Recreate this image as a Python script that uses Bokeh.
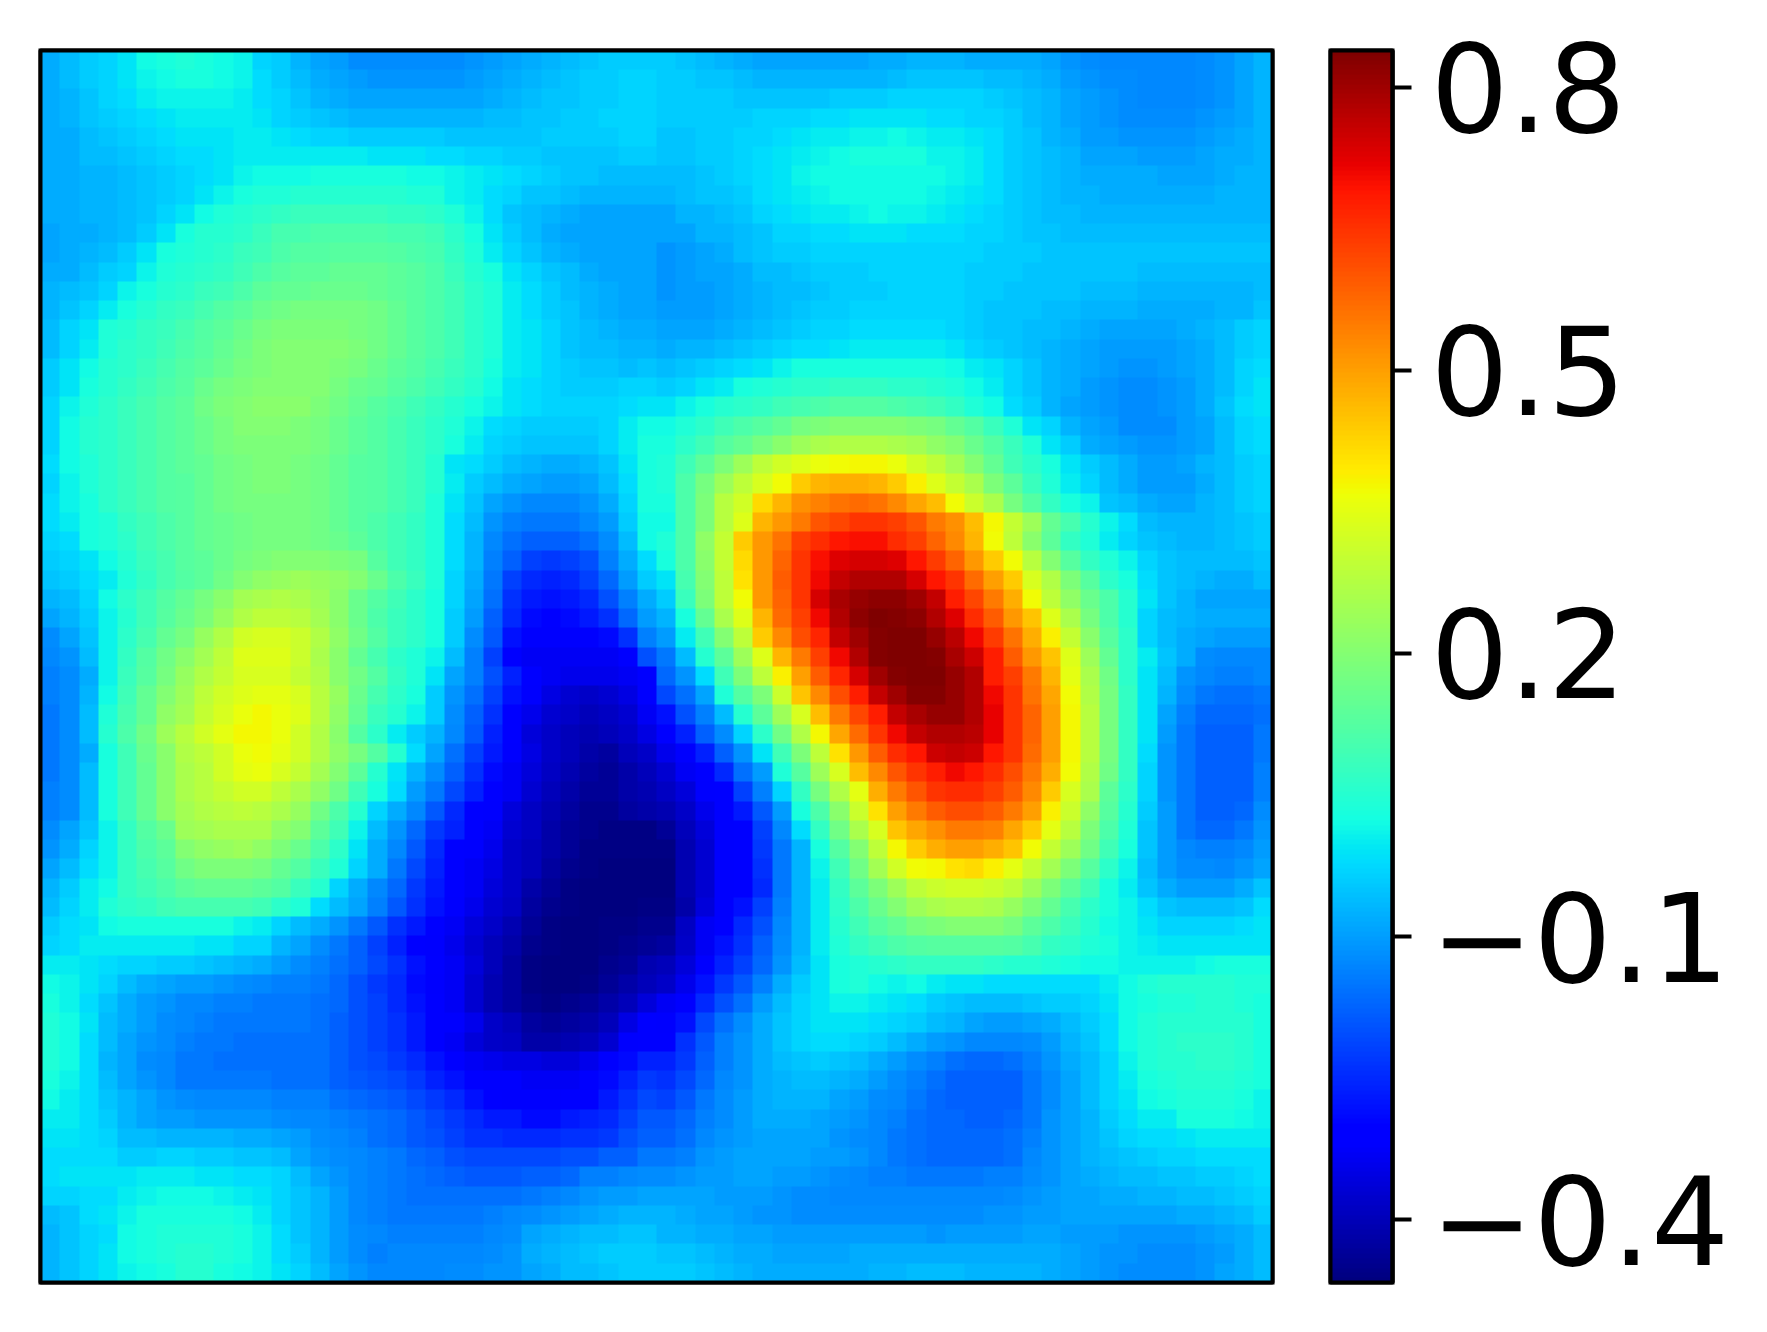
import numpy as np
from bokeh.embed import file_html
from bokeh.resources import INLINE
from bokeh.layouts import row
from bokeh.models import FixedTicker, LinearColorMapper, Range1d
from bokeh.plotting import figure

# colour-bar ticks
tick_values = [-0.4, -0.1, 0.2, 0.5, 0.8]
tick_labels = ["\u22120.4", "\u22120.1", "0.2", "0.5", "0.8"]
value_low = -0.4666
value_high = 0.839

# cell values, in hundredths, top row first
left_half = [
[-8,-6,-4,-3,-1,2,3,4,3,2,1,-3,-4,-7,-9,-10,-12,-12,-12,-12,-12,-12,-11,-10,-9,-8,-7,-6,-5,-4,-4,-4],
[-8,-6,-4,-3,-1,1,2,3,3,2,1,-2,-4,-6,-8,-9,-10,-11,-11,-11,-11,-11,-10,-9,-8,-7,-6,-5,-4,-4,-3,-3],
[-8,-7,-5,-3,-2,0,1,1,1,1,0,-2,-3,-5,-7,-8,-9,-9,-9,-9,-9,-9,-9,-8,-7,-6,-5,-5,-4,-4,-3,-3],
[-8,-7,-5,-4,-3,-2,-1,0,0,0,0,-1,-3,-4,-5,-6,-7,-7,-7,-7,-7,-7,-7,-6,-6,-5,-5,-4,-4,-3,-3,-3],
[-8,-8,-6,-5,-4,-3,-2,-1,-1,-1,0,0,-1,-2,-3,-3,-4,-4,-4,-4,-4,-5,-5,-5,-5,-5,-4,-4,-4,-4,-3,-3],
[-8,-8,-6,-6,-5,-4,-3,-2,-2,-1,0,0,0,0,0,0,0,-1,-1,-1,-2,-2,-3,-3,-4,-4,-5,-5,-5,-5,-4,-4],
[-8,-8,-7,-7,-6,-5,-4,-3,-2,-1,1,2,2,2,3,3,3,3,3,2,2,1,0,-1,-2,-3,-4,-5,-5,-6,-6,-6],
[-8,-8,-7,-7,-6,-5,-4,-3,-1,1,3,4,4,5,5,5,5,5,5,4,4,1,0,-2,-3,-5,-5,-6,-7,-7,-7,-7],
[-8,-8,-7,-7,-6,-5,-3,-1,2,4,5,6,7,8,8,8,8,8,7,7,6,4,1,-2,-5,-6,-7,-8,-9,-9,-9,-9],
[-9,-8,-8,-7,-6,-4,-1,3,5,5,6,8,10,10,11,11,11,11,10,10,9,6,3,-1,-4,-6,-8,-9,-9,-9,-9,-9],
[-9,-8,-7,-6,-4,-1,3,4,5,6,8,9,11,12,12,13,13,13,12,11,10,7,4,0,-3,-5,-7,-8,-9,-9,-9,-9],
[-8,-8,-6,-4,-3,1,4,5,6,7,9,11,13,14,14,15,15,15,14,13,11,8,5,3,-1,-3,-5,-6,-8,-9,-9,-9],
[-7,-6,-5,-3,1,3,5,6,8,9,11,14,15,15,16,16,16,15,14,13,11,9,6,4,0,-2,-4,-6,-7,-8,-9,-9],
[-7,-5,-3,0,3,5,7,8,10,12,14,16,17,18,18,18,18,17,15,13,11,9,6,4,0,-2,-4,-5,-7,-8,-9,-9],
[-6,-3,-1,4,5,7,8,10,12,14,16,18,19,19,19,19,18,17,15,13,11,9,6,4,0,-1,-3,-5,-6,-7,-8,-8],
[-6,-3,0,4,6,7,9,11,13,15,17,19,20,20,20,20,19,17,15,13,11,9,6,4,0,-1,-3,-5,-6,-6,-7,-7],
[-4,-1,2,5,6,8,10,12,14,16,18,19,20,20,20,19,18,16,14,12,10,8,6,3,0,-1,-3,-4,-5,-5,-6,-5],
[-4,-1,3,5,7,9,11,13,16,18,19,20,20,20,20,18,16,15,13,11,9,7,5,2,-1,-2,-3,-4,-4,-4,-3,-3],
[-3,1,4,6,8,10,12,14,17,19,20,21,21,21,19,17,15,13,11,9,7,5,3,1,-1,-2,-3,-3,-3,-3,-2,-1],
[-3,2,5,6,8,10,12,14,16,18,20,20,20,19,18,16,14,12,10,8,6,4,1,-2,-3,-4,-4,-4,-4,-3,0,2],
[-3,2,5,6,8,10,12,14,16,18,19,19,19,19,18,16,14,12,10,8,6,3,0,-3,-4,-5,-5,-5,-5,-3,0,3],
[-2,2,4,6,8,10,12,14,15,17,18,19,19,18,17,15,13,12,10,8,5,-1,-2,-4,-6,-7,-8,-8,-7,-5,-1,3],
[-3,1,4,6,8,10,12,13,15,17,18,19,19,18,17,15,13,12,10,8,5,0,-4,-6,-8,-9,-10,-10,-9,-6,-2,3],
[-2,1,3,6,8,10,12,13,15,17,18,18,18,18,17,15,13,12,10,8,4,-1,-5,-9,-11,-13,-13,-13,-11,-8,-3,3],
[-2,0,3,4,7,9,11,13,15,16,17,18,18,18,17,15,13,11,9,7,4,-2,-6,-11,-14,-15,-15,-15,-13,-10,-4,2],
[-3,-2,3,4,6,9,11,13,15,16,17,18,18,18,17,16,14,11,9,7,4,-2,-7,-13,-16,-18,-18,-18,-16,-12,-6,2],
[-4,-3,-1,2,5,8,10,13,14,16,18,19,20,20,20,19,18,13,9,7,4,-2,-7,-14,-18,-22,-23,-22,-20,-14,-8,-2],
[-5,-4,-2,0,4,7,10,12,14,17,20,22,23,24,23,22,20,16,11,8,4,-3,-8,-15,-22,-25,-26,-25,-22,-17,-10,-4],
[-7,-6,-3,2,6,9,12,15,18,21,25,26,27,26,24,21,16,12,9,6,3,-3,-9,-16,-24,-27,-28,-27,-25,-20,-14,-8],
[-9,-7,-4,1,5,9,13,16,19,23,27,29,29,28,25,21,16,11,8,6,3,-4,-10,-18,-25,-29,-30,-29,-27,-24,-17,-10],
[-12,-9,-5,1,6,10,15,18,23,27,32,33,33,31,27,22,17,12,8,6,3,-4,-12,-19,-28,-32,-32,-32,-32,-29,-24,-14],
[-13,-11,-6,1,7,12,17,21,25,29,34,34,34,31,26,21,15,10,6,4,1,-6,-14,-22,-30,-33,-33,-33,-33,-33,-30,-20],
[-14,-12,-8,1,8,13,18,23,27,30,33,33,33,30,27,21,17,12,7,4,-1,-9,-14,-20,-26,-31,-33,-34,-34,-34,-33,-30],
[-14,-12,-7,2,9,15,20,24,29,32,34,35,35,33,28,23,16,10,6,3,-4,-11,-16,-22,-28,-32,-35,-37,-38,-37,-35,-31],
[-15,-12,-6,4,10,15,22,25,30,33,36,38,36,34,28,22,15,8,5,1,-4,-12,-18,-24,-30,-34,-37,-38,-40,-39,-37,-33],
[-15,-12,-6,5,11,17,24,28,32,35,38,38,36,32,27,21,12,6,0,-4,-7,-13,-19,-26,-31,-36,-38,-40,-41,-40,-38,-35],
[-15,-12,-8,3,9,16,21,27,29,32,36,37,35,32,27,22,18,12,5,-2,-9,-16,-22,-27,-32,-35,-38,-40,-42,-43,-40,-38],
[-15,-12,-6,3,9,15,21,26,28,32,35,36,33,30,25,20,14,5,-1,-7,-12,-18,-24,-29,-33,-36,-39,-41,-43,-44,-42,-40],
[-14,-12,-6,3,9,15,21,26,28,30,32,32,29,26,22,17,9,3,-2,-10,-15,-21,-26,-31,-33,-37,-40,-42,-44,-44,-42,-41],
[-14,-12,-6,3,9,15,21,25,27,28,29,28,26,23,17,11,5,-3,-8,-13,-19,-25,-31,-32,-36,-39,-41,-43,-45,-45,-43,-42],
[-12,-9,-5,1,7,12,16,24,25,26,26,26,22,20,14,9,1,-6,-11,-17,-23,-26,-31,-33,-37,-39,-42,-44,-45,-46,-46,-46],
[-11,-8,-3,1,7,11,14,20,22,23,24,22,19,16,11,6,-1,-8,-13,-19,-25,-30,-32,-34,-38,-40,-42,-44,-46,-46,-46,-46],
[-9,-6,-2,1,7,10,13,17,19,19,19,18,15,12,8,4,-3,-8,-15,-21,-26,-30,-33,-35,-38,-40,-43,-45,-46,-47,-47,-47],
[-7,-4,0,2,7,9,11,14,15,15,15,14,12,8,5,-3,-8,-13,-17,-23,-27,-31,-33,-36,-38,-42,-44,-46,-47,-47,-47,-47],
[-6,-3,0,4,6,7,9,10,10,10,10,9,6,4,-2,-6,-9,-14,-19,-24,-28,-32,-34,-37,-39,-43,-45,-46,-47,-47,-47,-46],
[-4,-2,-1,2,3,3,3,3,3,3,1,0,-3,-6,-8,-11,-15,-19,-24,-27,-31,-33,-36,-38,-41,-44,-46,-47,-47,-46,-46,-45],
[-3,-2,0,0,0,0,0,0,-1,-1,-3,-3,-7,-9,-12,-15,-18,-22,-26,-30,-32,-34,-37,-40,-42,-45,-46,-47,-47,-46,-45,-44],
[0,0,-1,-2,-3,-3,-4,-4,-5,-6,-7,-8,-10,-12,-14,-16,-18,-21,-24,-28,-31,-33,-36,-40,-43,-46,-47,-47,-47,-45,-44,-41],
[2,1,-1,-3,-6,-8,-9,-10,-10,-11,-12,-13,-14,-14,-15,-17,-20,-23,-25,-29,-32,-33,-37,-41,-43,-46,-47,-47,-46,-44,-42,-40],
[3,1,-2,-5,-8,-10,-11,-13,-13,-14,-14,-15,-15,-15,-16,-17,-20,-22,-25,-28,-31,-33,-37,-41,-43,-45,-46,-45,-44,-42,-40,-36],
[4,2,-1,-6,-8,-10,-12,-13,-14,-15,-15,-15,-15,-15,-16,-18,-20,-22,-24,-27,-30,-32,-34,-38,-40,-43,-44,-43,-42,-40,-35,-31],
[4,2,-2,-6,-9,-11,-12,-14,-15,-15,-16,-16,-16,-16,-16,-18,-20,-22,-24,-27,-30,-33,-36,-38,-39,-42,-42,-41,-40,-37,-32,-30],
[4,2,-2,-7,-9,-12,-13,-15,-15,-16,-16,-16,-16,-16,-16,-18,-20,-21,-23,-25,-28,-31,-33,-34,-35,-35,-36,-36,-34,-32,-29,-26],
[3,1,-2,-6,-9,-11,-13,-15,-15,-15,-15,-15,-16,-16,-16,-18,-19,-20,-21,-23,-26,-28,-31,-32,-32,-33,-33,-33,-32,-29,-26,-23],
[2,0,-2,-5,-7,-9,-11,-12,-13,-13,-13,-13,-14,-14,-14,-16,-17,-18,-19,-21,-23,-25,-28,-30,-32,-32,-32,-30,-30,-27,-24,-21],
[0,0,-2,-4,-7,-9,-10,-10,-11,-11,-11,-11,-12,-13,-13,-14,-15,-16,-17,-19,-21,-23,-25,-27,-27,-29,-29,-27,-26,-25,-22,-19],
[-1,-1,-2,-3,-6,-6,-7,-7,-7,-7,-8,-8,-9,-10,-12,-13,-14,-16,-17,-19,-20,-22,-24,-24,-25,-25,-25,-24,-24,-23,-20,-18],
[-2,-2,-2,-2,-4,-4,-3,-3,-4,-4,-5,-5,-6,-9,-11,-12,-13,-14,-15,-17,-18,-20,-21,-21,-21,-21,-21,-20,-20,-18,-18,-15],
[-2,-1,-1,-1,-1,0,0,0,-1,-1,-2,-2,-3,-6,-9,-11,-13,-14,-15,-16,-17,-18,-19,-19,-19,-18,-18,-17,-14,-14,-13,-12],
[-3,-3,-2,-2,0,1,2,2,2,1,0,-1,-3,-5,-7,-10,-13,-14,-15,-16,-16,-16,-16,-16,-16,-15,-14,-13,-11,-10,-10,-9],
[-6,-5,-2,-1,1,3,3,3,3,3,2,0,-3,-5,-7,-10,-13,-14,-15,-15,-15,-15,-15,-14,-13,-12,-11,-10,-9,-8,-7,-7],
[-7,-5,-3,-2,2,3,4,4,4,4,3,1,-2,-5,-7,-10,-12,-13,-14,-14,-14,-14,-14,-13,-12,-9,-8,-7,-6,-6,-5,-5],
[-7,-5,-3,-1,2,3,4,5,5,4,3,1,-2,-4,-7,-10,-12,-14,-13,-13,-13,-13,-13,-12,-11,-8,-7,-6,-5,-4,-4,-4],
[-7,-5,-3,-1,1,2,3,5,5,3,2,1,-1,-3,-6,-9,-11,-13,-13,-13,-13,-12,-12,-11,-11,-9,-8,-6,-6,-5,-4,-4],
]

right_half = [
[-4,-5,-6,-7,-8,-9,-9,-9,-9,-9,-9,-8,-8,-7,-7,-7,-8,-8,-8,-8,-9,-11,-12,-13,-13,-13,-13,-13,-12,-11,-9,-7],
[-4,-4,-5,-5,-6,-7,-7,-7,-7,-7,-7,-7,-6,-5,-5,-5,-5,-6,-6,-7,-8,-10,-11,-12,-12,-13,-13,-13,-12,-11,-9,-7],
[-4,-4,-4,-4,-5,-5,-5,-5,-5,-4,-4,-4,-3,-3,-3,-3,-3,-4,-5,-6,-7,-9,-10,-11,-12,-13,-13,-13,-12,-11,-9,-7],
[-4,-4,-4,-4,-4,-3,-3,-3,-2,-2,-1,-1,-1,-1,-2,-2,-3,-3,-4,-6,-7,-9,-10,-11,-12,-12,-12,-12,-11,-10,-9,-7],
[-5,-5,-4,-4,-3,-3,-2,-1,0,0,1,1,2,1,0,0,-1,-2,-4,-5,-7,-8,-10,-10,-11,-11,-11,-11,-10,-9,-8,-7],
[-5,-5,-4,-4,-3,-2,-1,0,1,2,3,3,3,3,1,1,0,-2,-4,-5,-6,-7,-9,-9,-9,-10,-10,-10,-9,-8,-8,-7],
[-6,-6,-5,-4,-3,-2,-1,1,2,2,2,2,2,2,2,1,0,-2,-4,-5,-6,-7,-8,-8,-8,-8,-9,-9,-9,-8,-7,-7],
[-7,-6,-5,-5,-4,-2,-1,0,1,2,2,2,2,2,1,0,-1,-2,-4,-5,-6,-7,-7,-8,-8,-8,-8,-8,-8,-7,-7,-7],
[-9,-7,-7,-6,-5,-3,-2,-1,0,0,1,2,1,1,0,-1,-2,-3,-4,-5,-6,-6,-7,-7,-7,-7,-7,-7,-7,-7,-7,-7],
[-9,-9,-7,-7,-6,-5,-3,-3,-2,-2,-1,-1,-1,-2,-2,-2,-3,-3,-4,-5,-5,-6,-6,-6,-6,-6,-6,-6,-6,-6,-6,-6],
[-11,-10,-9,-8,-6,-5,-4,-4,-3,-3,-3,-3,-3,-3,-3,-3,-3,-4,-4,-4,-5,-5,-5,-5,-5,-5,-5,-5,-5,-5,-5,-5],
[-11,-10,-9,-9,-8,-6,-6,-5,-4,-4,-4,-3,-3,-3,-3,-3,-4,-4,-4,-5,-5,-5,-5,-5,-5,-6,-6,-6,-6,-6,-6,-6],
[-11,-10,-10,-9,-8,-7,-6,-6,-5,-4,-4,-4,-3,-3,-3,-3,-4,-4,-5,-5,-5,-5,-6,-6,-6,-7,-7,-7,-7,-7,-7,-6],
[-10,-10,-10,-9,-8,-7,-6,-5,-4,-4,-3,-3,-3,-3,-3,-3,-4,-5,-5,-5,-6,-6,-7,-7,-7,-8,-8,-8,-8,-7,-7,-5],
[-9,-9,-9,-8,-7,-6,-5,-4,-3,-3,-2,-2,-2,-2,-2,-3,-4,-5,-5,-6,-6,-7,-8,-9,-9,-9,-9,-8,-7,-6,-4,-3],
[-8,-7,-7,-6,-5,-4,-3,-2,-2,-1,0,0,0,0,0,-1,-3,-4,-5,-6,-7,-8,-9,-10,-10,-10,-10,-9,-8,-6,-4,-3],
[-6,-5,-4,-3,-2,-1,1,3,3,3,3,3,3,3,3,2,0,-1,-3,-5,-7,-8,-9,-10,-11,-11,-10,-9,-8,-6,-3,-2],
[-4,-3,-1,0,3,4,5,6,6,7,7,7,6,6,5,4,2,0,-3,-5,-7,-8,-10,-11,-12,-12,-11,-10,-8,-6,-3,-1],
[-1,1,3,5,6,7,9,10,11,12,12,12,11,10,9,7,4,2,-2,-4,-7,-9,-10,-11,-12,-12,-11,-10,-8,-5,-2,-1],
[2,4,6,9,11,13,15,18,19,20,20,20,20,19,18,15,12,8,4,-1,-3,-7,-9,-10,-12,-12,-12,-10,-9,-6,-3,-2],
[3,6,9,13,15,18,21,24,26,27,27,27,26,25,22,20,16,12,8,4,-1,-4,-8,-9,-10,-11,-11,-10,-9,-6,-3,-2],
[4,9,14,19,24,29,32,34,36,37,38,38,36,32,29,25,20,15,9,6,3,-1,-4,-6,-8,-10,-10,-9,-7,-6,-4,-3],
[4,11,18,24,29,33,37,44,47,48,48,47,44,39,34,30,26,19,14,8,4,0,-3,-6,-8,-10,-10,-10,-8,-6,-4,-3],
[3,11,19,28,32,42,47,52,54,56,57,56,53,49,46,37,31,26,18,12,7,3,1,-5,-6,-8,-9,-9,-7,-6,-4,-3],
[2,11,19,28,34,47,51,55,60,62,65,65,63,60,55,52,46,38,30,24,15,10,5,1,-2,-6,-7,-7,-7,-6,-5,-4],
[4,11,22,30,44,51,56,63,66,69,70,70,66,63,58,53,47,37,29,21,14,7,4,0,-3,-5,-6,-7,-7,-6,-5,-4],
[3,11,21,30,42,51,58,65,70,73,74,74,73,69,64,58,51,44,37,28,20,13,7,4,1,-3,-5,-6,-6,-6,-6,-5],
[-1,10,20,29,41,51,59,65,71,76,78,78,78,74,69,65,57,50,44,33,27,19,13,6,3,-2,-5,-6,-7,-8,-8,-6],
[-4,8,19,29,37,51,58,65,74,79,81,82,82,80,76,68,62,55,48,37,29,22,16,11,5,-1,-5,-7,-9,-9,-9,-9],
[-7,3,15,26,34,47,57,63,71,78,82,84,83,82,78,73,66,59,51,45,34,26,18,11,5,-3,-6,-7,-8,-8,-8,-8],
[-10,0,9,20,29,44,53,61,67,76,80,83,84,84,81,77,71,64,56,48,39,30,21,13,6,-3,-6,-8,-9,-10,-10,-10],
[-15,-6,5,14,24,34,47,55,63,71,78,83,84,84,83,79,75,68,59,51,45,34,24,15,6,0,-5,-8,-12,-13,-13,-13],
[-17,-11,-2,9,19,29,39,50,59,67,74,80,83,84,84,81,78,68,63,55,47,35,26,17,6,-1,-6,-11,-13,-14,-14,-13],
[-21,-16,-9,4,12,19,31,45,53,61,68,76,80,83,83,81,78,71,65,56,49,37,27,18,7,-1,-7,-12,-15,-16,-16,-15],
[-28,-20,-14,-6,5,14,24,33,46,55,62,68,76,79,81,81,78,72,65,58,50,38,28,18,7,-1,-9,-14,-17,-17,-17,-16],
[-30,-26,-18,-12,-3,6,17,27,38,49,57,65,71,76,78,78,77,72,65,58,50,38,28,18,7,-1,-10,-15,-18,-18,-18,-15],
[-34,-32,-26,-18,-11,-1,9,19,29,41,51,59,66,69,75,76,75,69,65,57,50,38,28,18,7,-2,-11,-15,-18,-18,-18,-15],
[-37,-33,-31,-25,-16,-10,4,13,24,33,46,53,60,65,68,71,69,66,61,55,48,37,27,17,7,-3,-11,-15,-18,-18,-18,-14],
[-39,-36,-32,-30,-22,-14,-3,7,18,27,35,48,55,60,65,66,66,63,59,53,44,33,26,14,6,-3,-11,-15,-18,-18,-18,-14],
[-41,-38,-34,-31,-27,-19,-10,3,11,21,31,41,50,55,59,61,61,59,55,50,39,31,22,13,5,-4,-10,-15,-18,-18,-17,-12],
[-44,-40,-36,-32,-30,-22,-13,-2,7,17,26,33,45,49,52,55,55,54,49,44,35,28,19,11,4,-5,-10,-15,-17,-17,-15,-11],
[-46,-41,-37,-32,-31,-23,-15,-7,3,12,20,29,38,44,48,50,50,48,45,37,30,24,17,9,3,-5,-10,-13,-14,-14,-13,-10],
[-47,-41,-37,-32,-31,-24,-15,-7,1,9,17,25,32,37,38,41,42,39,35,30,25,19,13,6,1,-6,-10,-12,-12,-13,-11,-9],
[-47,-41,-37,-32,-30,-25,-15,-7,0,7,14,19,24,29,31,32,32,31,29,24,19,14,9,3,0,-5,-8,-10,-10,-10,-8,-5],
[-46,-42,-36,-32,-28,-22,-14,-7,0,6,11,16,20,24,26,27,27,26,23,19,15,10,6,3,1,-2,-5,-6,-6,-6,-5,-2],
[-45,-39,-33,-30,-25,-20,-13,-7,0,5,9,13,15,18,19,20,20,20,18,14,11,8,5,2,1,-1,-3,-3,-3,-3,-2,-1],
[-43,-38,-33,-28,-24,-18,-12,-7,0,4,7,9,11,12,13,13,13,13,12,10,7,6,4,3,1,0,-1,-1,-1,-1,-1,-1],
[-40,-36,-31,-26,-22,-17,-11,-6,-1,3,4,5,6,7,7,7,7,6,5,5,4,3,2,2,1,1,1,1,2,3,3,3],
[-38,-34,-28,-23,-19,-14,-8,-4,-1,3,4,2,1,2,0,-1,-1,-2,-2,-2,-2,-2,-2,0,2,4,5,5,5,5,4,4],
[-33,-30,-25,-20,-16,-10,-6,-3,-1,1,1,0,-1,-2,-4,-5,-6,-6,-6,-5,-4,-4,-3,-1,2,3,4,4,5,5,4,3],
[-32,-28,-21,-16,-12,-8,-5,-3,-1,-1,-1,-2,-3,-4,-6,-7,-9,-10,-10,-9,-8,-6,-4,-2,2,4,5,5,5,5,5,3],
[-30,-24,-19,-14,-11,-8,-5,-3,-2,-2,-3,-4,-6,-8,-10,-11,-13,-13,-13,-12,-10,-7,-5,-2,2,4,5,6,6,6,5,3],
[-26,-23,-18,-14,-11,-8,-6,-5,-4,-5,-6,-8,-10,-12,-14,-16,-17,-17,-16,-14,-11,-8,-6,-3,1,4,5,5,6,6,5,3],
[-24,-21,-17,-13,-11,-8,-7,-6,-6,-7,-8,-10,-12,-14,-16,-18,-18,-18,-18,-15,-12,-9,-6,-3,0,3,4,5,5,5,4,3],
[-22,-19,-15,-12,-10,-8,-7,-7,-7,-9,-10,-12,-13,-15,-17,-18,-18,-18,-18,-15,-12,-9,-6,-3,-1,2,3,4,4,4,3,1],
[-19,-17,-14,-12,-10,-8,-8,-8,-9,-10,-11,-13,-14,-16,-17,-17,-18,-18,-17,-15,-11,-9,-7,-4,-2,0,0,3,3,3,2,1],
[-18,-16,-13,-11,-10,-9,-9,-9,-9,-11,-12,-13,-15,-16,-17,-17,-17,-17,-16,-14,-11,-9,-7,-5,-3,-2,-2,-1,0,0,0,0],
[-15,-14,-11,-10,-9,-9,-9,-9,-10,-10,-11,-13,-15,-16,-17,-17,-17,-17,-16,-13,-11,-9,-7,-6,-5,-4,-3,-3,-2,-2,-2,-2],
[-12,-11,-10,-10,-9,-9,-10,-10,-11,-12,-13,-14,-14,-15,-15,-15,-15,-14,-14,-12,-11,-9,-8,-7,-6,-6,-5,-5,-4,-4,-3,-2],
[-9,-9,-9,-10,-10,-10,-11,-12,-12,-13,-13,-13,-13,-13,-13,-13,-13,-13,-12,-11,-10,-9,-9,-8,-8,-7,-7,-6,-6,-5,-4,-3],
[-7,-8,-9,-9,-10,-11,-11,-12,-12,-12,-12,-12,-12,-12,-12,-12,-12,-11,-11,-10,-10,-9,-9,-9,-9,-9,-9,-8,-8,-7,-6,-4],
[-7,-7,-8,-8,-9,-9,-10,-10,-10,-10,-10,-10,-10,-10,-11,-10,-10,-10,-10,-9,-9,-10,-10,-10,-11,-11,-11,-11,-10,-9,-8,-6],
[-5,-5,-6,-7,-8,-8,-9,-9,-9,-9,-8,-8,-8,-8,-8,-8,-8,-8,-8,-8,-8,-9,-10,-11,-11,-12,-12,-12,-11,-10,-8,-6],
[-4,-4,-5,-6,-7,-8,-8,-8,-8,-8,-8,-7,-7,-6,-6,-6,-7,-7,-7,-7,-8,-9,-10,-11,-12,-12,-12,-12,-11,-9,-8,-6],
]

# the jet colour scale
def channel(xs, ys):
    return np.interp(np.linspace(0, 1, 256), xs, ys)

red = channel([0, .35, .66, .89, 1], [0, 0, 1, 1, .5])
green = channel([0, .125, .375, .64, .91, 1], [0, 0, 1, 1, 0, 0])
blue = channel([0, .11, .34, .65, 1], [.5, 1, 1, 0, 0])
jet = ["#%02x%02x%02x" % (int(r * 255), int(g * 255), int(b * 255))
       for r, g, b in zip(red, green, blue)]
mapper = LinearColorMapper(palette=jet, low=value_low, high=value_high)


def fit(row_values):
    return (list(row_values) + [row_values[-1]] * 32)[:32]


def add_frame(fig, left, right, bottom, top):
    # The outline sits under the image, so only its outer half shows; the
    # quad, clipped to the plot area, supplies the inner half on top.
    fig.outline_line_color = "black"
    fig.outline_line_width = 4
    fig.outline_line_alpha = 1
    fig.quad(left=[left], right=[right], bottom=[bottom], top=[top], fill_alpha=0,
             line_color="black", line_width=4, line_join="miter", level="overlay")


grid = np.array([fit(a) + fit(b) for a, b in zip(left_half, right_half)], dtype=np.float32) / 100
n_rows, n_cols = grid.shape
sharp = np.repeat(np.repeat(np.flipud(grid), 16, axis=0), 16, axis=1)

heat = figure(width=1298, height=1318, output_backend="svg", toolbar_location=None,
              x_range=Range1d(0, n_cols), y_range=Range1d(0, n_rows),
              x_axis_type=None, y_axis_type=None,
              min_border_left=40, min_border_right=26, min_border_top=50, min_border_bottom=36,
              background_fill_color="white", border_fill_color="white")
heat.image(image=[sharp], x=0, y=0, dw=n_cols, dh=n_rows, color_mapper=mapper)
add_frame(heat, 0, n_cols, 0, n_rows)

levels = np.linspace(value_low, value_high, 256, dtype=np.float32)
bar_image = np.repeat(levels[:, None], 6, axis=0)
bar = figure(width=454, height=1318, output_backend="svg", toolbar_location=None,
             x_range=Range1d(0, 1), y_range=Range1d(value_low, value_high),
             x_axis_type=None, y_axis_location="right",
             min_border_left=32, min_border_right=360, min_border_top=50, min_border_bottom=36,
             background_fill_color="white", border_fill_color="white")
bar.image(image=[bar_image], x=0, y=value_low, dw=1, dh=value_high - value_low, color_mapper=mapper)
bar.grid.visible = False
add_frame(bar, 0, 1, value_low, value_high)
axis = bar.yaxis[0]
axis.ticker = FixedTicker(ticks=tick_values)
axis.major_label_overrides = dict(zip(tick_values, tick_labels))
axis.major_label_text_font = "DejaVu Sans"
axis.major_label_text_font_size = "123px"
axis.major_label_text_color = "black"
axis.major_label_standoff = 19
axis.major_tick_in = 0
axis.major_tick_out = 19
axis.major_tick_line_width = 4
axis.major_tick_line_color = "black"
axis.minor_tick_line_color = None
axis.axis_line_color = "black"
axis.axis_line_width = 4

page = row(heat, bar)
open("out.html", "w").write(file_html(page, INLINE))
